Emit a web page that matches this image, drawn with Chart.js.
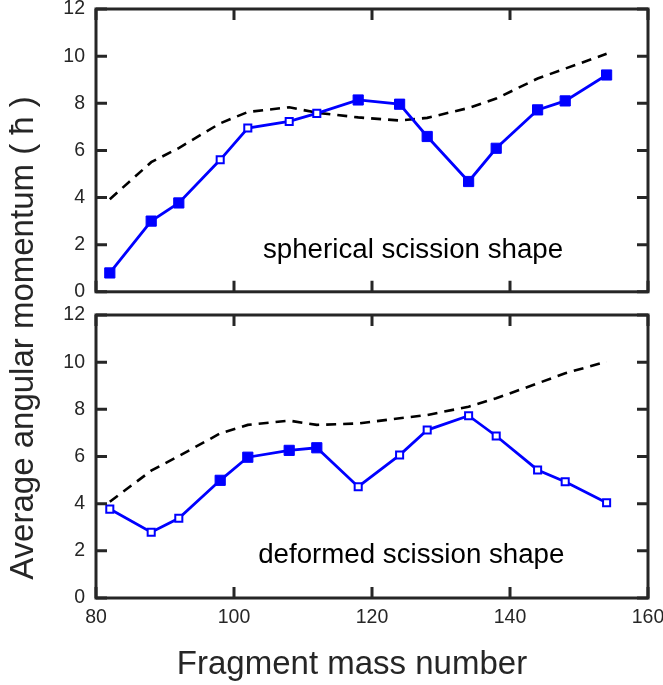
<!DOCTYPE html>
<html>
<head>
<meta charset="utf-8">
<title>Average angular momentum</title>
<script src="https://cdn.jsdelivr.net/npm/chart.js@4.4.1/dist/chart.umd.min.js"></script>
<style>
  html, body { margin: 0; padding: 0; background: #fff; }
  #wrap {
    position: relative; width: 663px; height: 685px; overflow: hidden;
    font-family: "Liberation Sans", Arial, Helvetica, sans-serif; color: #262626;
  }
  canvas { position: absolute; left: 0; }
  #topChart { top: 0; }
  #bottomChart { top: 300px; }
  .ytitle {
    position: absolute; left: 22px; top: 338px;
    width: 600px; height: 40px; margin-left: -300px; margin-top: -20px;
    line-height: 40px; font-size: 33px; text-align: center; white-space: nowrap;
    transform: rotate(-90deg);
  }
  .xtitle {
    position: absolute; left: 52px; top: 643px; width: 600px; height: 40px;
    line-height: 40px; font-size: 33px; text-align: center; white-space: nowrap;
  }
</style>
</head>
<body>
<div id="wrap">
  <canvas id="topChart" width="663" height="300"></canvas>
  <canvas id="bottomChart" width="663" height="385"></canvas>
  <div class="ytitle">Average angular momentum ( ħ )</div>
  <div class="xtitle">Fragment mass number</div>
</div>
<script>
// fragment mass numbers (x values)
const massNumbers = [82, 88, 92, 98, 102, 108, 112, 118, 124, 128, 134, 138, 144, 148, 154];

// spherical scission shape
const sphericalJ   = [0.8, 3.0, 3.77, 5.6, 6.95, 7.23, 7.57, 8.14, 7.96, 6.59, 4.68, 6.09, 7.72, 8.1, 9.2];
const sphericalRef = [3.93, 5.5, 6.1, 7.15, 7.63, 7.83, 7.6, 7.4, 7.27, 7.38, 7.8, 8.2, 9.05, 9.47, 10.1];

// deformed scission shape
const deformedJ   = [3.77, 2.79, 3.38, 4.99, 5.97, 6.26, 6.37, 4.72, 6.06, 7.12, 7.73, 6.87, 5.43, 4.93, 4.04];
const deformedRef = [4.08, 5.4, 6.02, 6.98, 7.34, 7.52, 7.34, 7.4, 7.62, 7.76, 8.11, 8.47, 9.1, 9.53, 10.02];

// masses drawn with the small open marker in each panel
const sphericalOpen = [98, 102, 108, 112];
const deformedOpen  = [82, 88, 92, 118, 124, 128, 134, 138, 144, 148, 154];

const yTicks = [0, 2, 4, 6, 8, 10, 12];
const xTicks = [80, 100, 120, 140, 160];

const FONT = '"Liberation Sans", Arial, Helvetica, sans-serif';
const AXIS = '#262626';
const BLUE = '#0000ff';

// matlab-like box with inward ticks + panel caption
const boxPlugin = {
  id: 'box',
  afterDatasetsDraw(chart, args, opts) {
    const { ctx, chartArea: a, scales: { x, y } } = chart;
    ctx.save();
    ctx.strokeStyle = AXIS;
    ctx.lineWidth = 3;
    ctx.beginPath();
    yTicks.forEach(v => {
      const py = y.getPixelForValue(v);
      ctx.moveTo(a.left, py); ctx.lineTo(a.left + 11, py);
      ctx.moveTo(a.right, py); ctx.lineTo(a.right - 11, py);
    });
    xTicks.forEach(v => {
      const px = x.getPixelForValue(v);
      ctx.moveTo(px, a.bottom); ctx.lineTo(px, a.bottom - 11);
      ctx.moveTo(px, a.top); ctx.lineTo(px, a.top + 11);
    });
    ctx.stroke();
    ctx.strokeRect(a.left, a.top, a.right - a.left, a.bottom - a.top);

    ctx.fillStyle = '#000';
    ctx.font = '27.7px ' + FONT;
    ctx.textAlign = 'left';
    ctx.textBaseline = 'alphabetic';
    ctx.fillText(opts.text, x.getPixelForValue(opts.x), y.getPixelForValue(opts.y));
    ctx.restore();
  }
};

function makePanel(id, values, refValues, openMasses, caption, showX, padding) {
  const isOpen = c => openMasses.includes(massNumbers[c.dataIndex]);
  return new Chart(document.getElementById(id), {
    type: 'line',
    data: {
      datasets: [{
        data: massNumbers.map((m, i) => ({ x: m, y: values[i] })),
        borderColor: BLUE,
        borderWidth: 2.8,
        pointStyle: 'rect',
        pointRadius: c => isOpen(c) ? 5 : 7.2,
        pointBorderWidth: c => isOpen(c) ? 2 : 1,
        pointBorderColor: BLUE,
        pointBackgroundColor: c => isOpen(c) ? '#fff' : BLUE,
        order: 1
      }, {
        data: massNumbers.map((m, i) => ({ x: m, y: refValues[i] })),
        borderColor: '#000',
        borderWidth: 2.6,
        borderDash: [10, 7],
        pointRadius: 0,
        order: 2
      }]
    },
    options: {
      responsive: false,
      animation: false,
      events: [],
      layout: { padding },
      plugins: {
        legend: { display: false },
        tooltip: { enabled: false },
        box: caption
      },
      scales: {
        x: {
          type: 'linear', min: 80, max: 160,
          grid: { display: false, drawTicks: false },
          border: { display: false },
          ticks: {
            display: showX, stepSize: 20, padding: 8,
            color: AXIS, font: { family: FONT, size: 19.5 }
          },
          afterFit: s => {
            s.height = showX ? 87 : 0;
            s.paddingLeft = 0; s.paddingRight = 0;
          }
        },
        y: {
          min: 0, max: 12,
          grid: { display: false, drawTicks: false },
          border: { display: false },
          ticks: {
            stepSize: 2, padding: 11,
            color: AXIS, font: { family: FONT, size: 19.5 }
          },
          afterFit: s => {
            s.width = 96;
            s.paddingTop = 0; s.paddingBottom = 0;
          }
        }
      }
    },
    plugins: [boxPlugin]
  });
}

makePanel('topChart', sphericalJ, sphericalRef, sphericalOpen,
  { text: 'spherical scission shape', x: 104.2, y: 1.44 },
  false, { left: 0, right: 15, top: 9, bottom: 8 });

makePanel('bottomChart', deformedJ, deformedRef, deformedOpen,
  { text: 'deformed scission shape', x: 103.5, y: 1.48 },
  true, { left: 0, right: 15, top: 15, bottom: 0 });
</script>
</body>
</html>
